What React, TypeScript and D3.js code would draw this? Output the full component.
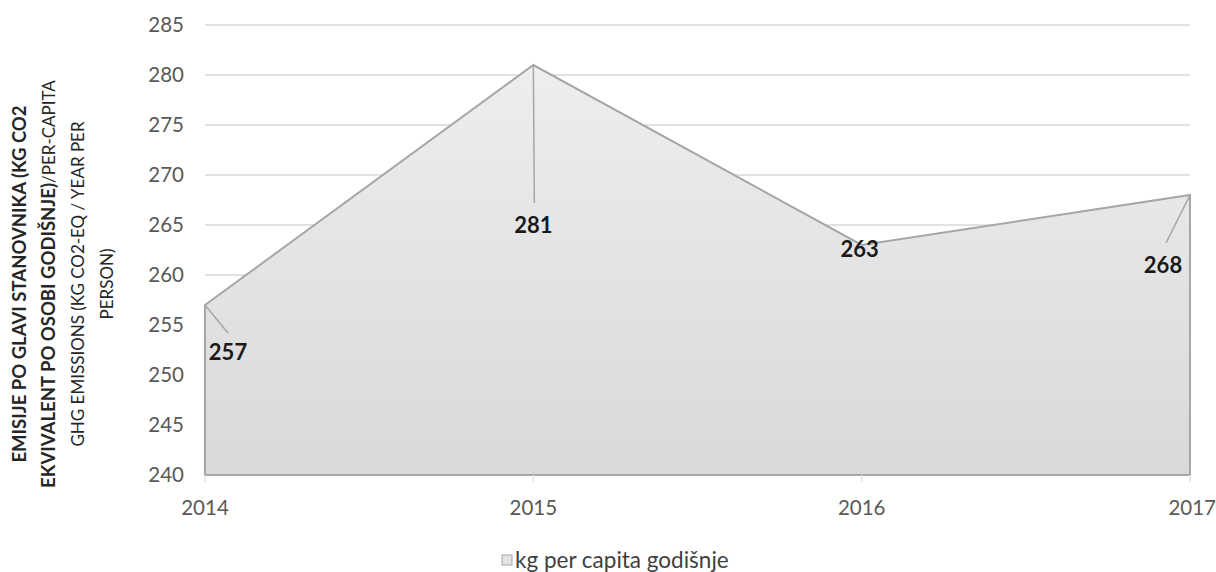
import React, { useEffect, useRef } from "react";
import * as d3 from "d3";

// data
const years = ["2014", "2015", "2016", "2017"];
const values = [257, 281, 263, 268];
const yTicks = [240, 245, 250, 255, 260, 265, 270, 275, 280, 285];
const seriesName = "kg per capita godišnje";

// label placement relative to the point (px), as Excel placed them
const labelOffsets = [
  { lx: 23, ly: 28, tx: 23, ty: 47 },
  { lx: 1, ly: 138, tx: 0, ty: 160 },
  { lx: 0, ly: 0, tx: -2, ty: 4 },
  { lx: -24, ly: 48, tx: -27, ty: 70 },
];

const W = 1216,
  H = 572;
const margin = { left: 205, right: 26, top: 25, bottom: 97 };
const FONT = "Lato, sans-serif";

const App = () => {
  const ref = useRef<SVGSVGElement>(null);

  useEffect(() => {
    const svg = d3.select(ref.current);
    svg.selectAll("*").remove();

    const x = d3
      .scalePoint()
      .domain(years)
      .range([margin.left, W - margin.right]);
    const y = d3
      .scaleLinear()
      .domain([240, 285])
      .range([H - margin.bottom, margin.top]);

    const defs = svg.append("defs");
    const grad = defs
      .append("linearGradient")
      .attr("id", "areaFill")
      .attr("x1", "0")
      .attr("y1", "0")
      .attr("x2", "0")
      .attr("y2", "1");
    grad.append("stop").attr("offset", "0%").attr("stop-color", "#eeeeee");
    grad.append("stop").attr("offset", "100%").attr("stop-color", "#d9d9d9");

    // gridlines
    svg
      .append("g")
      .selectAll("line")
      .data(yTicks)
      .enter()
      .append("line")
      .attr("x1", margin.left)
      .attr("x2", W - margin.right)
      .attr("y1", (d) => y(d))
      .attr("y2", (d) => y(d))
      .attr("stroke", "#d9d9d9")
      .attr("stroke-width", 1.5);

    // y tick labels
    svg
      .append("g")
      .selectAll("text")
      .data(yTicks)
      .enter()
      .append("text")
      .attr("x", 184)
      .attr("y", (d) => y(d))
      .attr("dy", "0.35em")
      .attr("text-anchor", "end")
      .attr("font-family", FONT)
      .attr("font-size", 20.5)
      .attr("fill", "#595959")
      .text((d) => d);

    const data = years.map((yr, i) => ({ yr, v: values[i] }));

    const area = d3
      .area<{ yr: string; v: number }>()
      .x((d) => x(d.yr)!)
      .y0(y(240))
      .y1((d) => y(d.v));

    svg
      .append("path")
      .datum(data)
      .attr("d", area)
      .attr("fill", "url(#areaFill)")
      .attr("stroke", "#a6a6a6")
      .attr("stroke-width", 2)
      .attr("stroke-linejoin", "miter");

    // x ticks (faint)
    svg
      .append("g")
      .selectAll("line")
      .data(years)
      .enter()
      .append("line")
      .attr("x1", (d) => x(d)!)
      .attr("x2", (d) => x(d)!)
      .attr("y1", y(240))
      .attr("y2", y(240) + 7)
      .attr("stroke", "#e3e3e3")
      .attr("stroke-width", 1.5);

    // x labels (the last one is pushed inside the frame)
    const last = years.length - 1;
    svg
      .append("g")
      .selectAll("text")
      .data(years)
      .enter()
      .append("text")
      .attr("x", (d, i) => (i === last ? W : x(d)!))
      .attr("y", 515)
      .attr("text-anchor", (d, i) => (i === last ? "end" : "middle"))
      .attr("font-family", FONT)
      .attr("font-size", 20.5)
      .attr("fill", "#595959")
      .text((d) => d);

    // data labels with leader lines
    const lab = svg.append("g").selectAll("g").data(data).enter().append("g");
    lab
      .filter((d, i) => labelOffsets[i].ly !== 0)
      .append("line")
      .attr("x1", (d) => x(d.yr)!)
      .attr("y1", (d) => y(d.v))
      .attr("x2", (d) => x(d.yr)! + labelOffsets[values.indexOf(d.v)].lx)
      .attr("y2", (d) => y(d.v) + labelOffsets[values.indexOf(d.v)].ly)
      .attr("stroke", "#a6a6a6")
      .attr("stroke-width", 1.5);
    lab
      .append("text")
      .attr("x", (d, i) => x(d.yr)! + labelOffsets[i].tx)
      .attr("y", (d, i) => y(d.v) + labelOffsets[i].ty)
      .attr("dy", "0.35em")
      .attr("text-anchor", "middle")
      .attr("font-family", FONT)
      .attr("font-weight", "bold")
      .attr("font-size", 22)
      .attr("fill", "#1a1a1a")
      .text((d) => d.v);

    // y axis title, rotated, four lines
    const title = svg
      .append("text")
      .attr("transform", "translate(0,284) rotate(-90)")
      .attr("text-anchor", "middle")
      .attr("font-family", FONT)
      .attr("font-size", 17)
      .attr("fill", "#262626");
    const t1 = title.append("tspan").attr("x", 0).attr("y", 26);
    t1.append("tspan")
      .attr("font-weight", "bold")
      .attr("font-size", 18.5)
      .text("EMISIJE PO GLAVI STANOVNIKA (KG CO2");
    const t2 = title.append("tspan").attr("x", 0).attr("y", 55);
    t2.append("tspan")
      .attr("font-weight", "bold")
      .attr("font-size", 18.5)
      .text("EKVIVALENT PO OSOBI GODIŠNJE)");
    t2.append("tspan").text("/PER-CAPITA");
    title
      .append("tspan")
      .attr("x", 0)
      .attr("y", 84)
      .text("GHG EMISSIONS  (KG CO2-EQ / YEAR PER");
    title.append("tspan").attr("x", 0).attr("y", 113).text("PERSON)");

    // legend
    const leg = svg.append("g").attr("transform", "translate(502,560)");
    leg
      .append("rect")
      .attr("x", 0)
      .attr("y", -5)
      .attr("width", 10)
      .attr("height", 10)
      .attr("fill", "#e4e4e4")
      .attr("stroke", "#a6a6a6")
      .attr("stroke-width", 1);
    leg
      .append("text")
      .attr("x", 13)
      .attr("y", 0)
      .attr("dy", "0.35em")
      .attr("font-family", FONT)
      .attr("font-size", 22.5)
      .attr("fill", "#404040")
      .text(seriesName);
  }, []);

  return (
    <svg
      ref={ref}
      width={W}
      height={H}
      style={{ position: "absolute", left: 0, top: 0, background: "#fff" }}
    />
  );
};

export default App;
